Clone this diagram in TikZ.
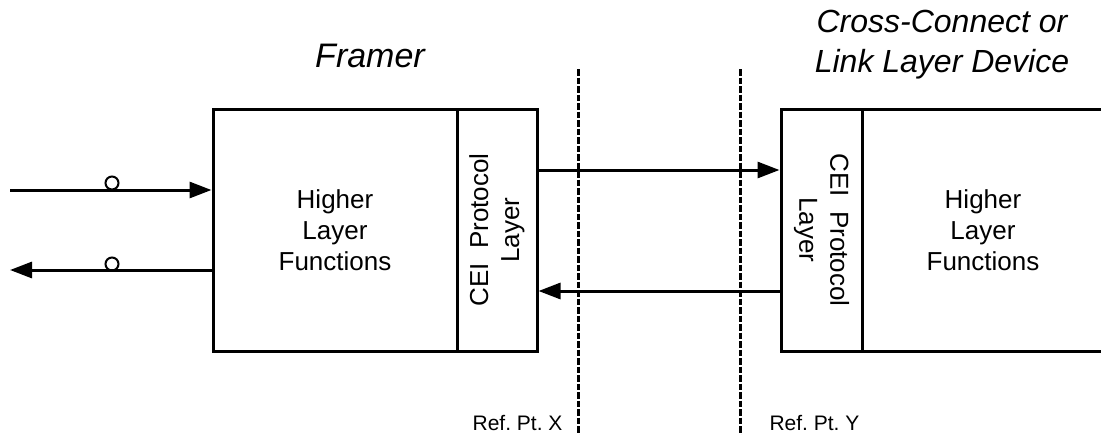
\documentclass[tikz,border=0pt]{standalone}
\usepackage{fontspec}
\setmainfont{Liberation Sans}
\usetikzlibrary{arrows.meta}
\frenchspacing
\begin{document}
\begin{tikzpicture}[x=1pt,y=-1pt,
  blk/.style={draw, line width=3pt, inner sep=0pt, align=center, font=\fontsize{26}{31}\selectfont},
  arr/.style={line width=3pt, -{Triangle[length=22pt,width=16pt]}},
  refline/.style={line width=3pt, dash pattern=on 6.5pt off 2pt},
  title/.style={font=\fontsize{32}{40}\selectfont\itshape, align=center},
  reflbl/.style={font=\fontsize{21}{25}\selectfont},
  port/.style={circle, draw, line width=2pt, minimum size=13pt, inner sep=0pt}]
\useasboundingbox (0,0) rectangle (1101,434);
\clip (0,0) rectangle (1101,434);
% boxes
\node[blk, minimum width=244pt, minimum height=242pt] (hl1) at (335,230) {Higher\\Layer\\Functions};
\node[blk, rotate=90, minimum width=242pt, minimum height=80pt] (cei1) at (497,230) {CEI\ \ Protocol\\Layer};
\node[blk, rotate=-90, minimum width=242pt, minimum height=81pt] (cei2) at (821.5,230) {CEI\ \ Protocol\\Layer};
\node[blk, minimum width=242pt, minimum height=242pt] (hl2) at (983,230) {Higher\\Layer\\Functions};
% titles
\node[title, font=\fontsize{34}{40}\selectfont\itshape, anchor=base] (t1) at (370,67) {Framer};
\node[title] (t2) at (942,45) {Cross-Connect or\\Link Layer Device};
% reference lines
\coordinate (xt) at (578,69);
\coordinate (xb) at (578,440);
\coordinate (yt) at (740,69);
\coordinate (yb) at (740,440);
\draw[refline] (xt) -- (xb);
\draw[refline] (yt) -- (yb);
\node[reflbl, anchor=base east] (rx) at (566,430) {Ref. Pt. X};
\node[reflbl, anchor=base west] (ry) at (766,430) {Ref. Pt. Y};
% connectors between devices
\draw[arr] (cei1.south |- 0,170) -- (cei2.south |- 0,170);
\draw[arr] (cei2.south |- 0,291) -- (cei1.south |- 0,291);
% external ports
\coordinate (inA) at (10,190);
\coordinate (outA) at (10,270);
\draw[arr] (inA) -- (hl1.west |- inA);
\draw[arr] (hl1.west |- outA) -- (outA);
\node[port] (p1) at (112,183) {};
\node[port] (p2) at (112,264) {};
\end{tikzpicture}
\end{document}
